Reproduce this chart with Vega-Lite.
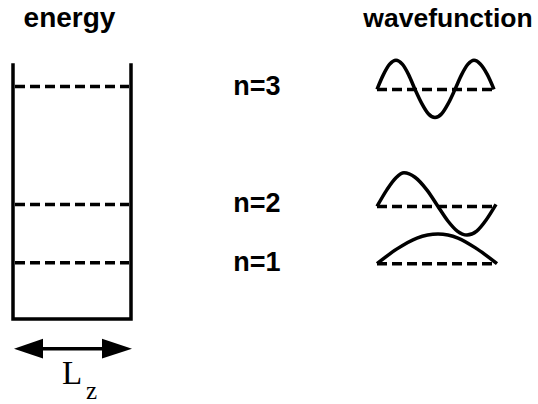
{
  "$schema": "https://vega.github.io/schema/vega-lite/v6.json",
  "width": 538,
  "height": 404,
  "padding": 0,
  "autosize": {"type": "fit", "contains": "padding"},
  "background": "white",
  "config": {"view": {"stroke": null}},
  "layer": [
    {
      "data": {"values": [
        {"x": 13, "y": 64, "o": 1},
        {"x": 13, "y": 323, "o": 2},
        {"x": 131, "y": 323, "o": 3},
        {"x": 131, "y": 64, "o": 4}
      ]},
      "mark": {"type": "line", "color": "black", "strokeWidth": 3.5, "strokeJoin": "miter", "strokeCap": "butt"},
      "encoding": {
        "x": {"field": "x", "type": "quantitative", "scale": {"domain": [0, 538], "nice": false, "zero": false}, "axis": null},
        "y": {"field": "y", "type": "quantitative", "scale": {"domain": [0, 404], "nice": false, "zero": false, "reverse": true}, "axis": null},
        "order": {"field": "o"}
      }
    },
    {
      "data": {"values": [
        {"x": 15, "x2": 129, "y": 87.5},
        {"x": 15, "x2": 129, "y": 207},
        {"x": 15, "x2": 129, "y": 266},
        {"x": 377, "x2": 494, "y": 90.5},
        {"x": 377, "x2": 496, "y": 209},
        {"x": 377, "x2": 497, "y": 267}
      ]},
      "mark": {"type": "rule", "color": "black", "strokeWidth": 3.5, "strokeDash": [10, 5]},
      "encoding": {
        "x": {"field": "x", "type": "quantitative", "axis": null},
        "x2": {"field": "x2"},
        "y": {"field": "y", "type": "quantitative", "axis": null}
      }
    },
    {
      "data": {"values": [
        {"x": 28, "x2": 118, "y": 353}
      ]},
      "mark": {"type": "rule", "color": "black", "strokeWidth": 3.5},
      "encoding": {
        "x": {"field": "x", "type": "quantitative", "axis": null},
        "x2": {"field": "x2"},
        "y": {"field": "y", "type": "quantitative", "axis": null}
      }
    },
    {
      "data": {"values": [
        {"head": "L", "x": 14, "y": 353, "y2": 353},
        {"head": "L", "x": 43, "y": 343, "y2": 363},
        {"head": "R", "x": 102, "y": 343, "y2": 363},
        {"head": "R", "x": 132, "y": 353, "y2": 353}
      ]},
      "mark": {"type": "area", "color": "black", "orient": "vertical", "interpolate": "linear"},
      "encoding": {
        "x": {"field": "x", "type": "quantitative", "axis": null},
        "y": {"field": "y", "type": "quantitative", "axis": null},
        "y2": {"field": "y2"},
        "detail": {"field": "head"}
      }
    },
    {
      "data": {"values": [
        {"n": 3, "x": 377, "y": 90.5},
        {"n": 3, "x": 383.3, "y": 75.8},
        {"n": 3, "x": 389.7, "y": 65},
        {"n": 3, "x": 396, "y": 61},
        {"n": 3, "x": 402.3, "y": 65},
        {"n": 3, "x": 408.7, "y": 75.8},
        {"n": 3, "x": 415, "y": 90.5},
        {"n": 3, "x": 421.7, "y": 104.7},
        {"n": 3, "x": 428.3, "y": 115.2},
        {"n": 3, "x": 435, "y": 119},
        {"n": 3, "x": 441.7, "y": 115.2},
        {"n": 3, "x": 448.3, "y": 104.7},
        {"n": 3, "x": 455, "y": 90.5},
        {"n": 3, "x": 461.5, "y": 75.8},
        {"n": 3, "x": 468, "y": 65},
        {"n": 3, "x": 474, "y": 61},
        {"n": 3, "x": 480.5, "y": 65},
        {"n": 3, "x": 487.5, "y": 75.8},
        {"n": 3, "x": 494, "y": 90.5},
        {"n": 2, "x": 377, "y": 209},
        {"n": 2, "x": 387, "y": 192},
        {"n": 2, "x": 396, "y": 180},
        {"n": 2, "x": 404, "y": 175},
        {"n": 2, "x": 415, "y": 179.5},
        {"n": 2, "x": 427, "y": 192.5},
        {"n": 2, "x": 438, "y": 209},
        {"n": 2, "x": 447.7, "y": 223.5},
        {"n": 2, "x": 457.3, "y": 234},
        {"n": 2, "x": 467, "y": 238},
        {"n": 2, "x": 476.7, "y": 234},
        {"n": 2, "x": 486.3, "y": 222.5},
        {"n": 2, "x": 496, "y": 207},
        {"n": 1, "x": 377, "y": 267},
        {"n": 1, "x": 397, "y": 252},
        {"n": 1, "x": 417, "y": 241},
        {"n": 1, "x": 438, "y": 237},
        {"n": 1, "x": 458, "y": 241},
        {"n": 1, "x": 477, "y": 252},
        {"n": 1, "x": 497, "y": 267}
      ]},
      "mark": {"type": "line", "color": "black", "strokeWidth": 3.5, "interpolate": "monotone"},
      "encoding": {
        "x": {"field": "x", "type": "quantitative", "axis": null},
        "y": {"field": "y", "type": "quantitative", "axis": null},
        "detail": {"field": "n"}
      }
    },
    {
      "data": {"values": [
        {"label": "energy", "x": 69.5, "y": 27}
      ]},
      "mark": {"type": "text", "font": "Liberation Sans", "fontWeight": "bold", "fontSize": 28, "align": "center", "baseline": "alphabetic", "color": "black"},
      "encoding": {
        "x": {"field": "x", "type": "quantitative", "axis": null},
        "y": {"field": "y", "type": "quantitative", "axis": null},
        "text": {"field": "label"}
      }
    },
    {
      "data": {"values": [
        {"label": "wavefunction", "x": 448, "y": 27}
      ]},
      "mark": {"type": "text", "font": "Liberation Sans", "fontWeight": "bold", "fontSize": 26.5, "align": "center", "baseline": "alphabetic", "color": "black"},
      "encoding": {
        "x": {"field": "x", "type": "quantitative", "axis": null},
        "y": {"field": "y", "type": "quantitative", "axis": null},
        "text": {"field": "label"}
      }
    },
    {
      "data": {"values": [
        {"label": "n=3", "x": 257, "y": 96.5},
        {"label": "n=2", "x": 257, "y": 215},
        {"label": "n=1", "x": 257, "y": 274.5}
      ]},
      "mark": {"type": "text", "font": "Liberation Sans", "fontWeight": "bold", "fontSize": 27, "align": "center", "baseline": "alphabetic", "color": "black"},
      "encoding": {
        "x": {"field": "x", "type": "quantitative", "axis": null},
        "y": {"field": "y", "type": "quantitative", "axis": null},
        "text": {"field": "label"}
      }
    },
    {
      "data": {"values": [
        {"label": "L", "x": 62, "y": 388.5}
      ]},
      "mark": {"type": "text", "font": "Liberation Serif", "fontSize": 33, "align": "left", "baseline": "alphabetic", "color": "black"},
      "encoding": {
        "x": {"field": "x", "type": "quantitative", "axis": null},
        "y": {"field": "y", "type": "quantitative", "axis": null},
        "text": {"field": "label"}
      }
    },
    {
      "data": {"values": [
        {"label": "z", "x": 86, "y": 403.5}
      ]},
      "mark": {"type": "text", "font": "Liberation Serif", "fontSize": 25, "align": "left", "baseline": "alphabetic", "color": "black"},
      "encoding": {
        "x": {"field": "x", "type": "quantitative", "axis": null},
        "y": {"field": "y", "type": "quantitative", "axis": null},
        "text": {"field": "label"}
      }
    }
  ]
}
